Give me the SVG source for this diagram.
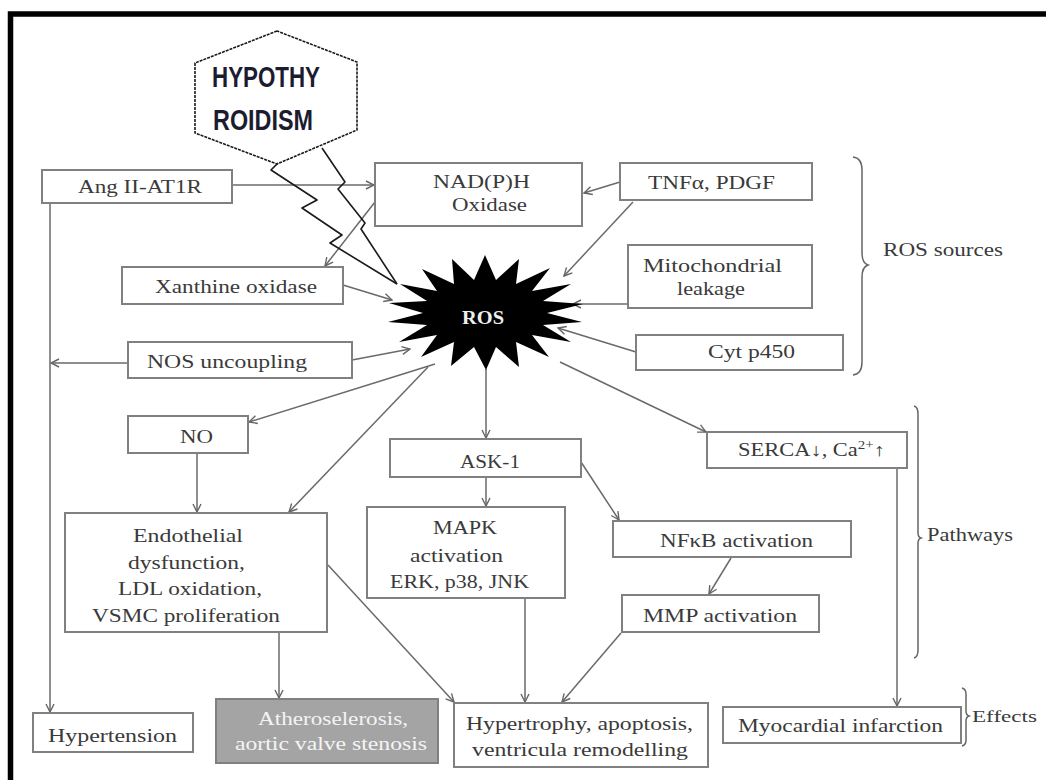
<svg xmlns="http://www.w3.org/2000/svg" width="1046" height="780" viewBox="0 0 1046 780">
<defs>
<marker id="arr" markerWidth="10" markerHeight="10" refX="9" refY="5" orient="auto" markerUnits="userSpaceOnUse">
<path d="M1,1 L9,5 L1,9" fill="none" stroke="#666" stroke-width="1.4"/>
</marker>
<style>
.box{fill:#fff;stroke:#808080;stroke-width:2}
.t{font-family:"Liberation Serif","DejaVu Serif",serif;font-size:18px;fill:#3a3a3a;text-anchor:middle}
.c{fill:none;stroke:#6a6a6a;stroke-width:1.5;marker-end:url(#arr)}
.bolt{fill:none;stroke:#1a1a1a;stroke-width:1.6;stroke-linejoin:round}
.br{fill:none;stroke:#666;stroke-width:1.5}
</style>
</defs>
<rect width="1046" height="780" fill="#fff"/>
<rect x="10.5" y="14" width="1045" height="790" fill="none" stroke="#000" stroke-width="5.5"/>

<g id="connectors">
<line class="c" x1="232" y1="185" x2="374" y2="185"/>
<line class="c" x1="620" y1="182" x2="584" y2="193"/>
<line class="c" x1="633" y1="202" x2="564" y2="276"/>
<line class="c" x1="628" y1="304" x2="573" y2="304"/>
<line class="c" x1="636" y1="352" x2="558" y2="328"/>
<line class="c" x1="375" y1="202" x2="325" y2="266"/>
<line class="c" x1="343" y1="285" x2="392" y2="300"/>
<line class="c" x1="352" y1="360" x2="410" y2="349"/>
<line class="c" x1="128" y1="363" x2="51" y2="363"/>
<line class="c" x1="50" y1="203" x2="50" y2="712"/>
<line class="c" x1="435" y1="364" x2="249" y2="422"/>
<line class="c" x1="428" y1="367" x2="289" y2="512"/>
<line class="c" x1="486" y1="369" x2="486" y2="438"/>
<line class="c" x1="560" y1="362" x2="706" y2="432"/>
<line class="c" x1="197" y1="453" x2="197" y2="512"/>
<line class="c" x1="279" y1="632" x2="279" y2="698"/>
<line class="c" x1="328" y1="565" x2="454" y2="702"/>
<line class="c" x1="486" y1="477" x2="486" y2="506"/>
<line class="c" x1="581" y1="462" x2="619" y2="520"/>
<line class="c" x1="731" y1="558" x2="709" y2="594"/>
<line class="c" x1="525" y1="598" x2="525" y2="702"/>
<line class="c" x1="621" y1="633" x2="562" y2="702"/>
<line class="c" x1="897" y1="468" x2="897" y2="706"/>
</g>

<g id="hypothyroidism">
<polygon points="277,31 195,63 195,133 277,164 357,130 357,62" fill="#fff" stroke="#1a1a1a" stroke-width="1.6" stroke-dasharray="3,1"/>
<text x="266" y="87" font-family="'Liberation Sans','DejaVu Sans',sans-serif" font-weight="bold" font-size="29" fill="#1c1c30" text-anchor="middle" textLength="108" lengthAdjust="spacingAndGlyphs">HYPOTHY</text>
<text x="263" y="130" font-family="'Liberation Sans','DejaVu Sans',sans-serif" font-weight="bold" font-size="29" fill="#1c1c30" text-anchor="middle" textLength="100" lengthAdjust="spacingAndGlyphs">ROIDISM</text>
<polyline class="bolt" points="278,163 271,170 317,200 302,208 342,235 330,243 397,284"/>
<polyline class="bolt" points="322,148 345,182 338,189 365,223 361,229 397,284"/>
</g>

<g id="ros">
<polygon fill="#000" points="485,255 496,280 519,259 516,284 550,268 532,291 571,284 543,301 583,304 547,313 582,322 543,325 571,342 532,335 549,357 516,342 519,367 496,347 486,370 474,347 451,366 454,342 421,357 437,335 399,342 427,325 388,322 423,313 389,303 427,301 400,284 437,291 422,269 454,284 452,259 474,280"/>
<text x="483" y="324" font-family="'Liberation Serif',serif" font-weight="bold" font-size="18" fill="#eee" text-anchor="middle" textLength="42" lengthAdjust="spacingAndGlyphs">ROS</text>
</g>

<g id="angii"><rect class="box" x="42" y="170" width="190" height="33"/><text class="t" x="140" y="193" textLength="124" lengthAdjust="spacingAndGlyphs">Ang II-AT1R</text></g>
<g id="nadph"><rect class="box" x="375" y="163" width="207" height="63"/><text class="t" x="481.5" y="188" textLength="97" lengthAdjust="spacingAndGlyphs">NAD(P)H</text><text class="t" x="489.5" y="211" textLength="75" lengthAdjust="spacingAndGlyphs">Oxidase</text></g>
<g id="tnf"><rect class="box" x="620" y="163" width="192" height="37"/><text class="t" x="711.5" y="189" textLength="127" lengthAdjust="spacingAndGlyphs">TNFα, PDGF</text></g>
<g id="mito"><rect class="box" x="628" y="245" width="184" height="63"/><text class="t" x="712.5" y="272" textLength="139" lengthAdjust="spacingAndGlyphs">Mitochondrial</text><text class="t" x="711" y="295" textLength="68" lengthAdjust="spacingAndGlyphs">leakage</text></g>
<g id="cyt"><rect class="box" x="636" y="335" width="207" height="35"/><text class="t" x="751.5" y="358" textLength="87" lengthAdjust="spacingAndGlyphs">Cyt p450</text></g>
<g id="xanthine"><rect class="box" x="122" y="267" width="221" height="37"/><text class="t" x="236" y="293" textLength="162" lengthAdjust="spacingAndGlyphs">Xanthine oxidase</text></g>
<g id="nos"><rect class="box" x="128" y="342" width="224" height="36"/><text class="t" x="227" y="368" textLength="160" lengthAdjust="spacingAndGlyphs">NOS uncoupling</text></g>
<g id="no"><rect class="box" x="128" y="416" width="120" height="37"/><text class="t" x="196.5" y="443" textLength="33" lengthAdjust="spacingAndGlyphs">NO</text></g>
<g id="endothelial"><rect class="box" x="65" y="513" width="262" height="119"/>
<text class="t" x="188" y="542" textLength="110" lengthAdjust="spacingAndGlyphs">Endothelial</text>
<text class="t" x="186.5" y="569" textLength="117" lengthAdjust="spacingAndGlyphs">dysfunction,</text>
<text class="t" x="190" y="595" textLength="144" lengthAdjust="spacingAndGlyphs">LDL oxidation,</text>
<text class="t" x="186" y="622" textLength="188" lengthAdjust="spacingAndGlyphs">VSMC proliferation</text></g>
<g id="ask1"><rect class="box" x="390" y="439" width="191" height="38"/><text class="t" x="490" y="468" textLength="60" lengthAdjust="spacingAndGlyphs">ASK-1</text></g>
<g id="mapk"><rect class="box" x="367" y="507" width="198" height="91"/>
<text class="t" x="465" y="534" textLength="64" lengthAdjust="spacingAndGlyphs">MAPK</text>
<text class="t" x="456.5" y="562" textLength="93" lengthAdjust="spacingAndGlyphs">activation</text>
<text class="t" x="459.5" y="588" textLength="139" lengthAdjust="spacingAndGlyphs">ERK, p38, JNK</text></g>
<g id="nfkb"><rect class="box" x="613" y="521" width="238" height="36"/><text class="t" x="736.5" y="547" textLength="153" lengthAdjust="spacingAndGlyphs">NFκB activation</text></g>
<g id="mmp"><rect class="box" x="622" y="595" width="197" height="37"/><text class="t" x="720" y="622" textLength="154" lengthAdjust="spacingAndGlyphs">MMP activation</text></g>
<g id="serca"><rect class="box" x="707" y="432" width="200" height="36"/><text class="t" x="811.5" y="456" textLength="147" lengthAdjust="spacingAndGlyphs">SERCA↓, Ca<tspan dy="-7" font-size="12">2+</tspan><tspan dy="7">↑</tspan></text></g>
<g id="hypertension"><rect class="box" x="33" y="713" width="160" height="39"/><text class="t" x="112.5" y="742" textLength="129" lengthAdjust="spacingAndGlyphs">Hypertension</text></g>
<g id="atherosclerosis"><rect x="216" y="699" width="222" height="64" fill="#a4a4a4" stroke="#808080" stroke-width="2"/>
<text class="t" x="333" y="725" style="fill:#f4f4f4" textLength="150" lengthAdjust="spacingAndGlyphs">Atheroselerosis,</text>
<text class="t" x="331" y="750" style="fill:#f4f4f4" textLength="192" lengthAdjust="spacingAndGlyphs">aortic valve stenosis</text></g>
<g id="hypertrophy"><rect class="box" x="454" y="703" width="254" height="64"/>
<text class="t" x="579.5" y="730" textLength="227" lengthAdjust="spacingAndGlyphs">Hypertrophy, apoptosis,</text>
<text class="t" x="580" y="756" textLength="216" lengthAdjust="spacingAndGlyphs">ventricula remodelling</text></g>
<g id="myocardial"><rect class="box" x="723" y="707" width="238" height="36"/><text class="t" x="840.5" y="732" textLength="205" lengthAdjust="spacingAndGlyphs">Myocardial infarction</text></g>

<g id="ros-sources">
<path class="br" d="M853,157 Q862,158 862,170 L862,253 Q862,263 868,265 Q862,267 862,277 L862,362 Q862,374 853,375"/>
<text class="t" x="943" y="256" textLength="120" lengthAdjust="spacingAndGlyphs">ROS sources</text>
</g>
<g id="pathways">
<path class="br" d="M914,406 Q918,407 918,414 L918,533 Q918,537 921,538 Q918,539 918,543 L918,650 Q918,657 914,658"/>
<text class="t" x="970" y="541" textLength="86" lengthAdjust="spacingAndGlyphs">Pathways</text>
</g>
<g id="effects">
<path class="br" d="M962,688 Q966,689 966,694 L966,711 Q966,715 969,716 Q966,717 966,721 L966,740 Q966,745 962,746"/>
<text class="t" x="1004.5" y="722" style="font-size:17px" textLength="65" lengthAdjust="spacingAndGlyphs">Effects</text>
</g>
</svg>
